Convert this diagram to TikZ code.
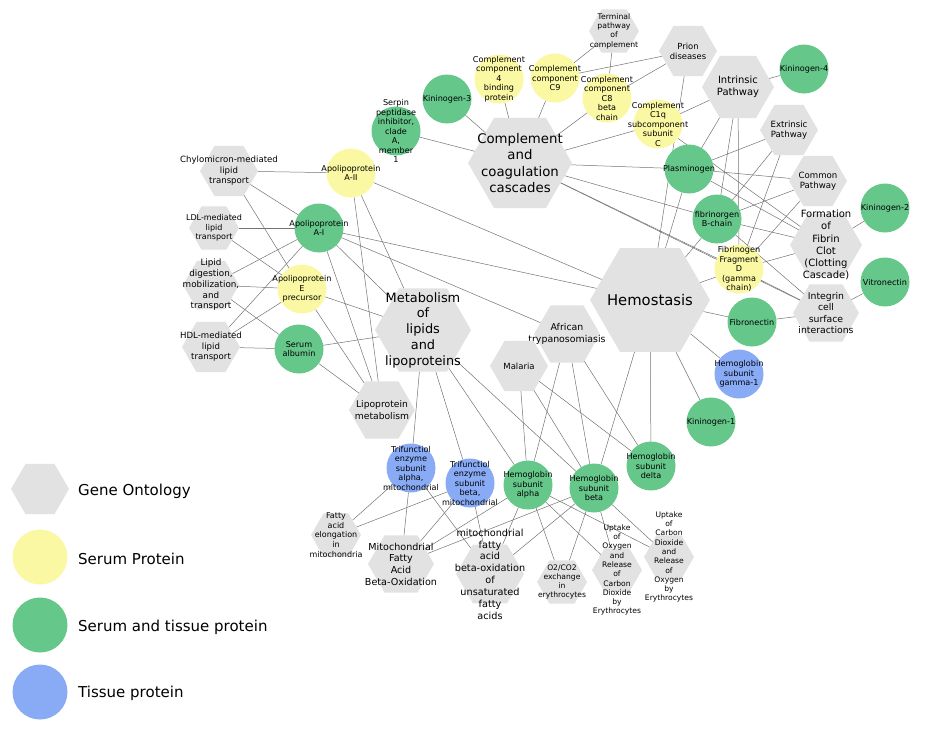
\documentclass[tikz,border=0pt]{standalone}
\usepackage{fontspec}
\setmainfont{DejaVu Sans}
\usetikzlibrary{shapes.geometric}
\pgfdeclarelayer{bg}
\pgfsetlayers{bg,main}
\definecolor{gofill}{RGB}{226,226,226}
\definecolor{serum}{RGB}{250,248,163}
\definecolor{both}{RGB}{102,199,139}
\definecolor{tissue}{RGB}{137,171,246}
\definecolor{linkgray}{RGB}{115,115,115}
\begin{document}
\begin{tikzpicture}[x=1pt, y=-1pt, line join=round, line cap=round,
    go/.style={regular polygon, regular polygon sides=6, minimum size=2*#1, inner sep=0pt, outer sep=0pt, fill=gofill},
    prot/.style={circle, minimum size=49, inner sep=0pt, outer sep=0pt, fill=#1},
    ptxt/.style={align=center, inner sep=0pt, font=\fontsize{8.1}{9.5}\selectfont},
    legtxt/.style={anchor=west, inner sep=0pt, font=\fontsize{15}{18}\selectfont},
    link/.style={draw=linkgray, line width=.5pt}]
    \useasboundingbox (0,0) rectangle (937,729);
    \foreach \n/\x/\y/\rad/\f/\lbl [evaluate=\f as \bs using 1.22*\f] in {
        ccc/520/163/52/13.3/{Complement\\and\\coagulation\\cascades},
        hemo/650/300/60/14.8/{Hemostasis},
        meta/423/330/48/12.9/{Metabolism\\of\\lipids\\and\\lipoproteins},
        intr/738/87/36/10/{Intrinsic\\Pathway},
        prion/688/51/29/8.4/{Prion\\diseases},
        term/614/31/25/7.7/{Terminal\\pathway\\of\\complement},
        extr/789/130/29/8.6/{Extrinsic\\Pathway},
        comm/818/181/29/8.6/{Common\\Pathway},
        fibclot/826/245/36/10/{Formation\\of\\Fibrin\\Clot\\(Clotting\\Cascade)},
        integ/826/313/33/9.3/{Integrin\\cell\\surface\\interactions},
        afri/567/334/33/9.4/{African\\trypanosomiasis},
        mala/519/366/29/8.5/{Malaria},
        lpm/382/410/33/9.2/{Lipoprotein\\metabolism},
        chylo/229/171/29/8.6/{Chylomicron-mediated\\lipid\\transport},
        ldl/214/228/25/8/{LDL-mediated\\lipid\\transport},
        lipdig/211/285/28/8.8/{Lipid\\digestion,\\mobilization,\\and\\transport},
        hdl/211/347/29/8.6/{HDL-mediated\\lipid\\transport},
        faelong/336/535/25/8/{Fatty\\acid\\elongation\\in\\mitochondria},
        mfabo/401/564/33/9.6/{Mitochondrial\\Fatty\\Acid\\Beta-Oxidation},
        unsat/490/574/34/9.7/{mitochondrial\\fatty\\acid\\beta-oxidation\\of\\unsaturated\\fatty\\acids},
        gas/562/582/25/7.6/{O2/CO2\\exchange\\in\\erythrocytes},
        upoxy/617/570/25/7.6/{Uptake\\of\\Oxygen\\and\\Release\\of\\Carbon\\Dioxide\\by\\Erythrocytes},
        upcarb/669/557/25/7.6/{Uptake\\of\\Carbon\\Dioxide\\and\\Release\\of\\Oxygen\\by\\Erythrocytes}}{
        \node[go=\rad, label={[align=center, inner sep=0pt, font=\fontsize{\f}{\bs}\selectfont]center:{\lbl}}] (\n) at (\x,\y) {};
    }
    \foreach \n/\x/\y/\c/\lbl in {
        kin3/447/99/both/{Kininogen-3},
        serpin/396/131/both/{Serpin\\peptidase\\inhibitor,\\clade\\A,\\member\\1},
        c4bp/499/79/serum/{Complement\\component\\4\\binding\\protein},
        c9/555/78/serum/{Complement\\component\\C9},
        c8b/607/98/serum/{Complement\\component\\C8\\beta\\chain},
        c1q/658/124/serum/{Complement\\C1q\\subcomponent\\subunit\\C},
        kin4/804/69/both/{Kininogen-4},
        plasm/689/169/both/{Plasminogen},
        fibb/717/219/both/{fibrinorgen\\B-chain},
        fibd/739/269/serum/{Fibrinogen\\Fragment\\D\\(gamma\\chain)},
        kin2/885/208/both/{Kininogen-2},
        vitro/885/282/both/{Vitronectin},
        fibro/752/322/both/{Fibronectin},
        hbg/739/374/tissue/{Hemoglobin\\subunit\\gamma-1},
        kin1/711/422/both/{Kininogen-1},
        apoa2/351/173/serum/{Apolipoprotein\\A-II},
        apoa1/319/228/both/{Apolipoprotein\\A-I},
        apoe/302/289/serum/{Apolipoprotein\\E\\precursor},
        alb/299/349/both/{Serum\\albumin},
        tfa/411/468/tissue/{Trifunctiol\\enzyme\\subunit\\alpha,\\mitochondrial},
        tfb/470/483/tissue/{Trifunctiol\\enzyme\\subunit\\beta,\\mitochondrial},
        hba/528/485/both/{Hemoglobin\\subunit\\alpha},
        hbb/594/488/both/{Hemoglobin\\subunit\\beta},
        hbd/651/466/both/{Hemoglobin\\subunit\\delta}}{
        \node[prot=\c, label={[ptxt]center:{\lbl}}] (\n) at (\x,\y) {};
    }
    \begin{pgfonlayer}{bg}
        \foreach \a/\b in {chylo/apoa2, chylo/apoa1, chylo/apoe, ldl/apoa1, ldl/apoe,
            lipdig/apoa1, lipdig/apoe, lipdig/alb, hdl/apoa1, hdl/apoe, hdl/alb,
            apoa2/meta, apoa2/lpm, apoa2/hemo, apoa1/lpm, apoa1/meta, apoa1/hemo, apoa1/afri,
            apoe/meta, apoe/lpm, alb/meta, alb/lpm,
            serpin/ccc, kin3/ccc, c4bp/ccc, c9/ccc, c9/term, c9/prion, c8b/term, c8b/prion, c8b/ccc,
            c1q/ccc, c1q/intr, c1q/fibclot, prion/hemo,
            intr/kin4, intr/plasm, intr/fibb, intr/fibd, extr/plasm, extr/fibb, extr/fibd,
            comm/plasm, comm/fibb, comm/fibd, ccc/plasm, ccc/fibb, ccc/fibd, ccc/integ,
            plasm/hemo, plasm/fibclot, fibb/fibclot, fibb/integ, fibb/hemo,
            fibd/fibclot, fibd/integ, fibd/hemo, fibclot/kin2, integ/vitro, integ/fibro,
            fibro/hemo, hbg/hemo, kin1/hemo,
            meta/tfa, meta/tfb, meta/hba, meta/hbb, afri/hba, afri/hbb, afri/hbd,
            mala/hba, mala/hbb, mala/hbd, hemo/hbb, hemo/hbd,
            tfa/faelong, tfa/mfabo, tfa/unsat, tfb/faelong, tfb/mfabo, tfb/unsat,
            hba/mfabo, hba/unsat, hba/gas, hba/upoxy, hba/upcarb,
            hbb/mfabo, hbb/unsat, hbb/gas, hbb/upoxy, hbb/upcarb}{
            \draw[link] (\a) -- (\b);
        }
    \end{pgfonlayer}
    \node[go=29] (lgo) at (40,489) {};
    \node[prot=serum, minimum size=55] (lserum) at (40,557) {};
    \node[prot=both, minimum size=55] (lboth) at (40,625) {};
    \node[prot=tissue, minimum size=55] (ltissue) at (40,692) {};
    \foreach \n/\y/\lbl in {tgo/491/Gene Ontology, tserum/559/Serum Protein,
        tboth/627/Serum and tissue protein, ttissue/693/Tissue protein}{
        \node[legtxt] (\n) at (78,\y) {\lbl};
    }
\end{tikzpicture}
\end{document}
